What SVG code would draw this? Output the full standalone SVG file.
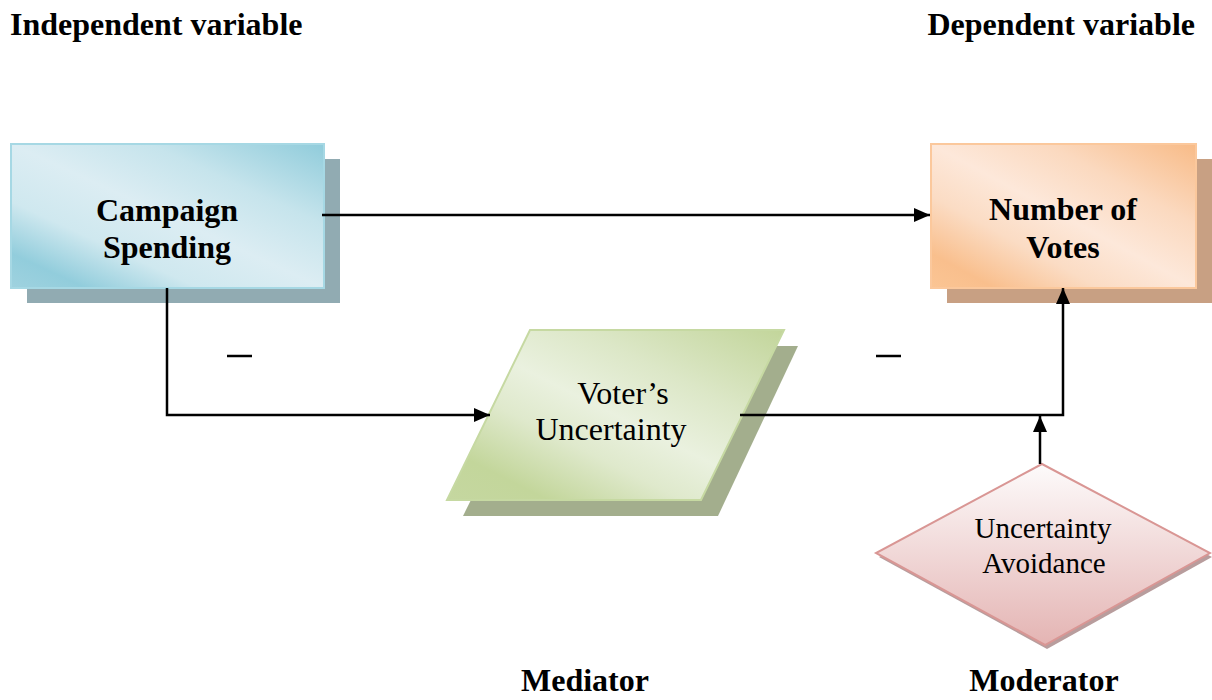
<svg xmlns="http://www.w3.org/2000/svg" width="1212" height="700" viewBox="0 0 1212 700">
<style>
.t{font-family:"Liberation Serif","Times New Roman",serif;fill:#000}
.b{font-weight:bold;font-size:32px}
.r{font-size:32px}
.c{stroke:#000;stroke-width:2.5;fill:none}
</style>
<defs>
<linearGradient id="gBlue" x1="0" y1="1" x2="1" y2="0">
<stop offset="0" stop-color="#9fd2df"/>
<stop offset="0.12" stop-color="#92cddc"/>
<stop offset="0.3" stop-color="#cfe8ef"/>
<stop offset="0.5" stop-color="#dcedf3"/>
<stop offset="0.72" stop-color="#c6e4ec"/>
<stop offset="1" stop-color="#90ccdb"/>
</linearGradient>
<linearGradient id="gOrange" x1="0" y1="1" x2="1" y2="0">
<stop offset="0" stop-color="#fbc594"/>
<stop offset="0.12" stop-color="#f9bf8d"/>
<stop offset="0.32" stop-color="#fbdcc4"/>
<stop offset="0.5" stop-color="#fde8da"/>
<stop offset="0.72" stop-color="#fbd9bf"/>
<stop offset="1" stop-color="#f8bb87"/>
</linearGradient>
<linearGradient id="gGreen" x1="0" y1="1" x2="1" y2="0">
<stop offset="0" stop-color="#c5d7a0"/>
<stop offset="0.15" stop-color="#c3d69b"/>
<stop offset="0.35" stop-color="#dfe9cc"/>
<stop offset="0.5" stop-color="#eaf1df"/>
<stop offset="0.7" stop-color="#dce7c7"/>
<stop offset="1" stop-color="#c2d59a"/>
</linearGradient>
<linearGradient id="gRed" x1="0" y1="0" x2="0" y2="1">
<stop offset="0" stop-color="#fdfbfb"/>
<stop offset="1" stop-color="#e4b4b3"/>
</linearGradient>
<marker id="arr" viewBox="0 0 16 14" refX="16" refY="7" markerWidth="16" markerHeight="14" markerUnits="userSpaceOnUse" orient="auto">
<path d="M0,0 L16,7 L0,14 z" fill="#000"/>
</marker>
</defs>

<g id="labels">
<text class="t b" x="10" y="35">Independent variable</text>
<text class="t b" x="1195" y="35" text-anchor="end">Dependent variable</text>
<text class="t b" x="585" y="691" text-anchor="middle">Mediator</text>
<text class="t b" x="1044" y="691" text-anchor="middle">Moderator</text>
</g>

<g id="campaign-spending">
<rect x="27" y="159" width="313" height="144" fill="#91abb2"/>
<rect x="11" y="144" width="313" height="144" fill="url(#gBlue)" stroke="#a6d8e4" stroke-width="2"/>
<text class="t b" x="167" y="221" text-anchor="middle">Campaign</text>
<text class="t b" x="167" y="258" text-anchor="middle">Spending</text>
</g>

<g id="number-of-votes">
<rect x="947" y="159" width="265" height="144" fill="#c8a083"/>
<rect x="931" y="144" width="265" height="144" fill="url(#gOrange)" stroke="#fbc89c" stroke-width="2"/>
<text class="t b" x="1063" y="220" text-anchor="middle">Number of</text>
<text class="t b" x="1063" y="258" text-anchor="middle">Votes</text>
</g>

<g id="voters-uncertainty">
<polygon points="547,346 798,346 718,516 463,516" fill="#a3ae8d"/>
<polygon points="530,330 784,330 701,500 447,500" fill="url(#gGreen)" stroke="#c6d9a2" stroke-width="2"/>
<text class="t r" x="623" y="404" text-anchor="middle">Voter’s</text>
<text class="t r" x="611" y="440" text-anchor="middle">Uncertainty</text>
</g>

<g id="uncertainty-avoidance">
<polygon points="1044,468 1212,557 1047,649 879,557" fill="#b89d9d"/>
<polygon points="1042,464 1210,553 1045,645 876,553" fill="url(#gRed)" stroke="#d99694" stroke-width="2"/>
<text class="t" font-size="29" x="1043" y="538" text-anchor="middle">Uncertainty</text>
<text class="t" font-size="29" x="1044" y="573" text-anchor="middle">Avoidance</text>
</g>

<g id="connectors">
<line class="c" x1="322" y1="215" x2="930" y2="215" marker-end="url(#arr)"/>
<polyline class="c" points="167,288 167,415 490,415" marker-end="url(#arr)"/>
<polyline class="c" points="740,415 1063,415 1063,288" marker-end="url(#arr)"/>
<line class="c" x1="1040" y1="464" x2="1040" y2="416" marker-end="url(#arr)"/>
<line class="c" x1="227" y1="356" x2="252" y2="356"/>
<line class="c" x1="876" y1="356" x2="901" y2="356"/>
</g>
</svg>
